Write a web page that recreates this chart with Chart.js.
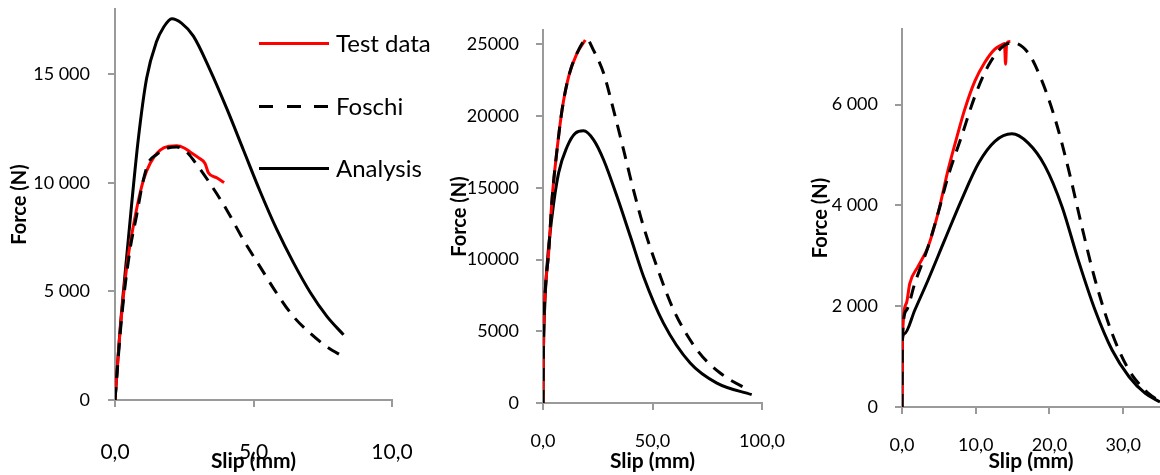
<!DOCTYPE html>
<html>
<head>
<meta charset="utf-8">
<title>Force - slip</title>
<script src="https://cdn.jsdelivr.net/npm/chart.js@4.4.1/dist/chart.umd.min.js"></script>
<style>
  html, body { margin: 0; padding: 0; background: #fff; width: 1160px; height: 475px; overflow: hidden; }
  .panel { position: absolute; top: 0; height: 475px; }
  .panel canvas { display: block; }
  .key { position: absolute; font-family: Lato, sans-serif; font-size: 24px; color: #000; line-height: 30px; height: 30px; }
  .swatch { position: absolute; width: 70px; height: 3px; }
</style>
</head>
<body>

<div class="panel" style="left:0;width:440px"><canvas id="chart1" width="440" height="475"></canvas></div>
<div class="panel" style="left:430px;width:380px"><canvas id="chart2" width="380" height="475"></canvas></div>
<div class="panel" style="left:780px;width:420px"><canvas id="chart3" width="420" height="475"></canvas></div>

<!-- legend -->
<div class="swatch" style="left:259px;top:42px;background:#ff0000"></div>
<div class="key" style="left:336px;top:28px">Test data</div>
<div class="swatch" style="left:259px;top:105px;background:repeating-linear-gradient(90deg,#000 0 14px,transparent 14px 27.5px)"></div>
<div class="key" style="left:336px;top:91px">Foschi</div>
<div class="swatch" style="left:259px;top:167px;background:#000"></div>
<div class="key" style="left:336px;top:153px">Analysis</div>

<script>
// Specimen 1 (slip in mm, force in N)
const s1TestSlip  = [0, 0.18, 0.42, 0.72, 1.02, 1.27, 1.63, 1.95, 2.23, 2.5, 2.71, 3.01, 3.25, 3.37, 3.67, 3.94];
const s1TestForce = [0, 3100, 6100, 8400, 10100, 10900, 11500, 11680, 11700, 11600, 11420, 11160, 10890, 10460, 10230, 10010];
const s1FoschiSlip  = [0, 0.24, 0.54, 0.78, 1.0, 1.2, 1.5, 1.9, 2.23, 2.6, 2.83, 3.43, 4.04, 4.64, 5.24, 5.84, 6.45, 7.05, 7.65, 8.25];
const s1FoschiForce = [0, 3800, 6900, 8500, 10000, 10900, 11300, 11600, 11650, 11400, 11050, 9970, 8740, 7360, 6130, 4910, 3830, 3070, 2450, 1990];
const s1AnalysisSlip  = [0, 0.18, 0.4, 0.6, 0.84, 1.14, 1.5, 1.75, 2.05, 2.4, 2.83, 3.43, 4.04, 4.64, 5.24, 5.84, 6.45, 7.05, 7.65, 8.25];
const s1AnalysisForce = [0, 3200, 6300, 9000, 12000, 14800, 16500, 17150, 17550, 17350, 16750, 15200, 13400, 11500, 9600, 7850, 6300, 4950, 3850, 3000];
const s1SlipTicks  = [0, 5, 10];
const s1ForceTicks = [0, 5000, 10000, 15000];

// Specimen 2
const s2TestSlip  = [0, 0.1, 0.29, 1.05, 2.57, 4.1, 6.4, 8.7, 11.7, 15.5, 19.3];
const s2TestForce = [0, 2500, 4870, 7890, 10450, 14160, 17640, 20430, 22750, 24370, 25300];
const s2FoschiSlip  = [0, 0.1, 0.29, 1.05, 2.57, 4.1, 6.4, 8.7, 11.7, 15.5, 20.0, 23.1, 27.7, 32.2, 36.8, 41.3, 45.9, 52.0, 59.6, 70.3, 80.9, 94.6];
const s2FoschiForce = [0, 2500, 4870, 7890, 10450, 14160, 17640, 20430, 22750, 24370, 25350, 24580, 22980, 20430, 17640, 14850, 12300, 9510, 6500, 3710, 2090, 850];
const s2AnalysisSlip  = [0, 0.2, 0.6, 1.8, 4.1, 7.1, 11.0, 14.7, 18.5, 23.1, 27.7, 33.8, 39.9, 45.9, 55.0, 67.2, 79.4, 95.3];
const s2AnalysisForce = [0, 3500, 6030, 9510, 13000, 16020, 17860, 18800, 18970, 18340, 16940, 14390, 11600, 8820, 5570, 2790, 1390, 580];
const s2SlipTicks  = [0, 50, 100];
const s2ForceTicks = [0, 5000, 10000, 15000, 20000, 25000];

// Specimen 3
const s3TestSlip  = [0, 0.05, 0.6, 1.05, 2.18, 3.54, 4.9, 6.26, 7.6, 8.5, 9.9, 11.2, 12.6, 13.7, 13.9, 14.05, 14.2, 14.7];
const s3TestForce = [0, 1330, 2060, 2450, 2790, 3180, 3850, 4710, 5440, 5900, 6470, 6830, 7100, 7200, 7210, 6800, 7220, 7250];
const s3FoschiSlip  = [0, 0.05, 0.6, 1.73, 3.54, 4.9, 6.26, 8.08, 9.9, 11.7, 13.5, 14.9, 17.1, 18.9, 20.8, 22.6, 24.4, 26.2, 28.5, 30.8, 33.0, 35.0];
const s3FoschiForce = [0, 1330, 1920, 2450, 3180, 3850, 4580, 5370, 6170, 6770, 7130, 7230, 7030, 6500, 5700, 4710, 3580, 2520, 1460, 730, 330, 100];
const s3AnalysisSlip  = [0, 0.05, 0.37, 1.73, 3.54, 5.81, 8.08, 10.4, 12.6, 14.9, 17.1, 19.4, 21.7, 23.9, 26.2, 28.5, 30.8, 33.0, 35.0];
const s3AnalysisForce = [0, 1330, 1460, 1920, 2520, 3320, 4110, 4840, 5270, 5420, 5240, 4780, 3980, 2920, 1920, 1130, 600, 270, 100];
const s3SlipTicks  = [0, 10, 20, 30];
const s3ForceTicks = [0, 2000, 4000, 6000];

const AXIS = '#9a9a9a';
Chart.defaults.font.family = 'Lato, sans-serif';
Chart.defaults.color = '#000';

const pts = (xs, ys) => xs.map((x, i) => ({ x: x, y: ys[i] }));
const comma = v => v.toFixed(1).replace('.', ',');
const spaced = v => String(v).replace(/\B(?=(\d{3})+(?!\d))/g, ' ');
// fixed tick positions instead of letting Chart.js pick them
const fixedTicks = values => scale => { scale.ticks = values.map(v => ({ value: v })); };
// fixed axis box size, no extra room for overhanging labels
const fixedBox = (key, size) => scale => {
  scale[key] = size;
  scale.paddingTop = scale.paddingBottom = scale.paddingLeft = scale.paddingRight = 0;
};

function datasets(testX, testY, foschiX, foschiY, anX, anY) {
  return [
    { label: 'Test data', data: pts(testX, testY), borderColor: '#ff0000', order: 2 },
    { label: 'Foschi', data: pts(foschiX, foschiY), borderColor: '#000', borderDash: [13, 9], order: 1 },
    { label: 'Analysis', data: pts(anX, anY), borderColor: '#000', order: 3 }
  ];
}

function makeChart(id, sets, o) {
  return new Chart(document.getElementById(id), {
    type: 'scatter',
    data: { datasets: sets },
    options: {
      responsive: false,
      animation: false,
      devicePixelRatio: 1,
      showLine: true,
      layout: { padding: { left: 0, top: o.top, right: o.right, bottom: 0 } },
      plugins: { legend: { display: false }, tooltip: { enabled: false } },
      elements: {
        point: { radius: 0 },
        line: { borderWidth: 3, cubicInterpolationMode: 'monotone', fill: false }
      },
      scales: {
        x: {
          type: 'linear', min: 0, max: o.xMax,
          afterBuildTicks: fixedTicks(o.xTicks),
          afterFit: fixedBox('height', o.xH),
          border: { color: AXIS, width: 2 },
          grid: { drawOnChartArea: false, color: AXIS, lineWidth: 2, tickLength: 7 },
          ticks: { autoSkip: false, maxRotation: 0, padding: o.xPad,
                   font: { size: o.xFont }, callback: comma },
          title: { display: true, text: 'Slip (mm)', font: { size: 21, weight: 'bold' },
                   padding: { top: 0, bottom: 1 } }
        },
        y: {
          type: 'linear', min: 0, max: o.yMax,
          afterBuildTicks: fixedTicks(o.yTicks),
          afterFit: fixedBox('width', o.yW),
          border: { color: AXIS, width: 2 },
          grid: { drawOnChartArea: false, color: AXIS, lineWidth: 2, tickLength: 7 },
          ticks: { autoSkip: false, padding: o.yPad, font: { size: 18 }, callback: o.yFmt },
          title: { display: true, text: 'Force (N)', font: { size: 20, weight: 'bold' },
                   padding: { top: o.yTitlePad, bottom: 0 } }
        }
      }
    }
  });
}

makeChart('chart1',
  datasets(s1TestSlip, s1TestForce, s1FoschiSlip, s1FoschiForce, s1AnalysisSlip, s1AnalysisForce),
  { top: 9, right: 48, xH: 75, yW: 115, xMax: 10, xTicks: s1SlipTicks, xPad: 33, xFont: 21,
    yMax: 18000, yTicks: s1ForceTicks, yPad: 18, yFmt: spaced, yTitlePad: 8 });

makeChart('chart2',
  datasets(s2TestSlip, s2TestForce, s2FoschiSlip, s2FoschiForce, s2AnalysisSlip, s2AnalysisForce),
  { top: 30, right: 48, xH: 72, yW: 113, xMax: 100, xTicks: s2SlipTicks, xPad: 20, xFont: 18,
    yMax: 26000, yTicks: s2ForceTicks, yPad: 17, yFmt: v => String(v), yTitlePad: 18 });

makeChart('chart3',
  datasets(s3TestSlip, s3TestForce, s3FoschiSlip, s3FoschiForce, s3AnalysisSlip, s3AnalysisForce),
  { top: 29, right: 40, xH: 68, yW: 122, xMax: 35, xTicks: s3SlipTicks, xPad: 20, xFont: 18,
    yMax: 7500, yTicks: s3ForceTicks, yPad: 17, yFmt: spaced, yTitlePad: 29 });
</script>
</body>
</html>
